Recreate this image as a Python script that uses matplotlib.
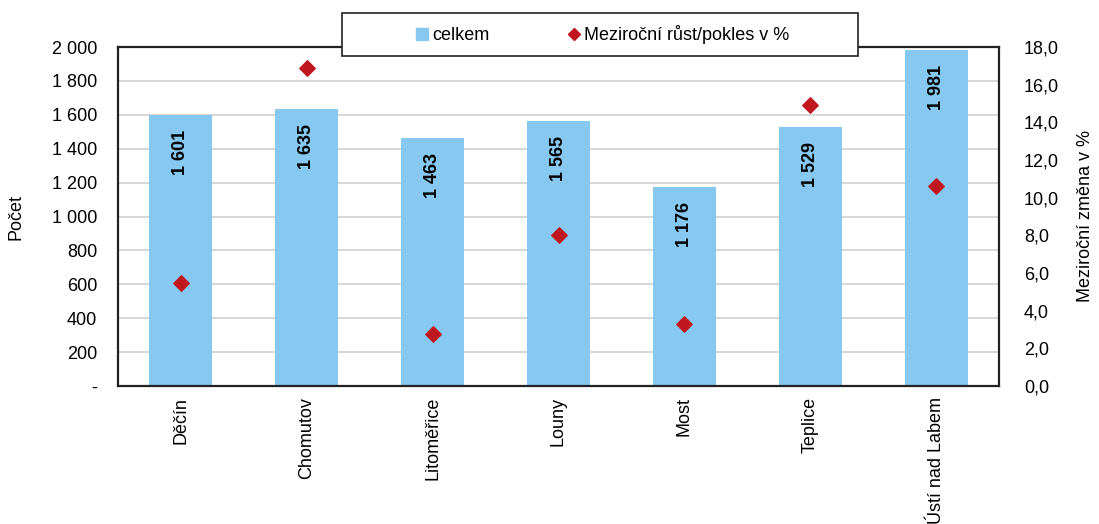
import matplotlib
matplotlib.use("Agg")
import matplotlib.pyplot as plt
from matplotlib.lines import Line2D
from matplotlib.patches import Rectangle
from matplotlib.ticker import FuncFormatter

plt.rcParams['font.family'] = ['Liberation Sans', 'DejaVu Sans']

categories = ["Děčín", "Chomutov", "Litoměřice", "Louny", "Most", "Teplice", "Ústí nad Labem"]
celkem = [1601, 1635, 1463, 1565, 1176, 1529, 1981]
zmena = [5.45, 16.87, 2.76, 8.0, 3.3, 14.9, 10.6]
left_ticks = list(range(0, 2001, 200))
right_ticks = [i * 2.0 for i in range(10)]

bar_color = '#87C8F0'
marker_color = '#C0161E'
FS = 13

fig = plt.figure(figsize=(10.99, 5.24), dpi=100)
ax = fig.add_axes([118/1099, 1-386/524, (999-118)/1099, (386-47)/524])
x = list(range(len(categories)))
ax.bar(x, celkem, width=0.5, color=bar_color, zorder=2)
ax.set_xlim(-0.5, len(categories)-0.5)
ax.set_ylim(0, 2000)
ax.set_yticks(left_ticks)
ax.yaxis.set_major_formatter(FuncFormatter(lambda v, p: '-' if v == 0 else f"{int(v):,}".replace(',', ' ')))
ax.grid(axis='y', color='#CFCFCF', linewidth=1.2, zorder=0)
ax.set_axisbelow(True)
ax.set_xticks(x)
ax.set_xticklabels(categories, rotation=90, va='top', ha='center', fontsize=FS)
ax.tick_params(axis='both', length=0, labelsize=FS)
ax.tick_params(axis='x', pad=8)
ax.tick_params(axis='y', pad=15)
ax.set_ylabel("Počet", fontsize=FS, labelpad=20)
for s in ax.spines.values():
    s.set_linewidth(1.6)
    s.set_color('#222222')

for xi, v in zip(x, celkem):
    ax.annotate(f"{v:,}".replace(',', ' '), (xi, v), xytext=(0, -11), textcoords='offset points',
                rotation=90, ha='center', va='top', fontsize=FS, fontweight='bold', zorder=4)

ax2 = ax.twinx()
ax2.set_ylim(0, 18)
ax2.set_yticks(right_ticks)
ax2.yaxis.set_major_formatter(FuncFormatter(lambda v, p: f"{v:.1f}".replace('.', ',')))
ax2.tick_params(axis='y', length=0, labelsize=FS, pad=18)
ax2.scatter(x, zmena, marker='D', s=62, color=marker_color, zorder=5)
ax2.set_ylabel("Meziroční změna v %", fontsize=FS, labelpad=13)
for s in ax2.spines.values():
    s.set_visible(False)

box = Rectangle((342/1099, 1-56/524), (858-342)/1099, 43/524, transform=fig.transFigure,
                facecolor='white', edgecolor='#222222', linewidth=1.2, zorder=9)
fig.patches.append(box)

handles = [Line2D([], [], marker='s', linestyle='none', color=bar_color, markersize=9),
           Line2D([], [], marker='D', linestyle='none', color=marker_color, markersize=6)]
leg = fig.legend(handles, ["celkem", "Meziroční růst/pokles v %"], ncol=2,
                 loc='center', bbox_to_anchor=(601/1099, 1-34.5/524), fontsize=FS,
                 frameon=False, handletextpad=0.05,
                 columnspacing=4.2, handlelength=1.0)
leg.set_zorder(10)

fig.savefig("out.png", dpi=100)
